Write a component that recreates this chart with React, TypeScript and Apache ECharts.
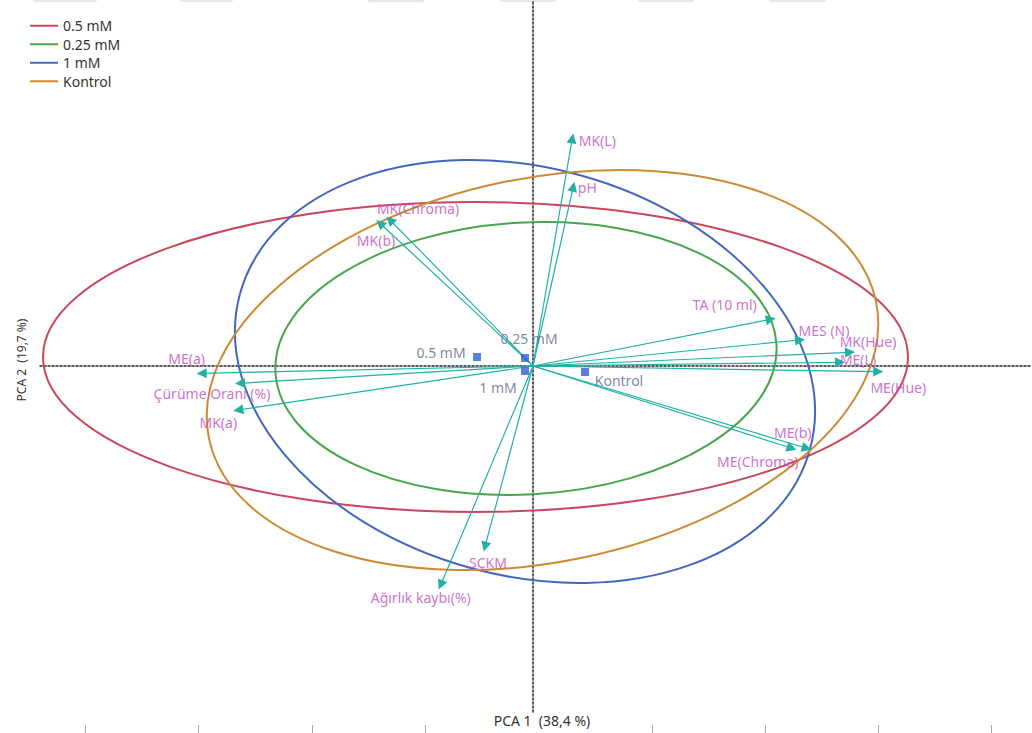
import React, { useEffect, useRef } from "react";
import * as echarts from "echarts";

// Treatment groups
const groupNames = ["0.5 mM", "0.25 mM", "1 mM", "Kontrol"];
const groupColors = ["#c9475b", "#45a74a", "#4466c0", "#cc8a33"];

// Group centroids on the first two components
const groupPca1 = [-0.56, -0.08, -0.08, 0.52];
const groupPca2 = [0.09, 0.08, -0.05, -0.06];

// Confidence ellipses: centre, semi-axes and tilt (degrees)
const ellipseCx = [-0.575, -0.07, -0.08, 0.095];
const ellipseCy = [0.09, 0.075, -0.055, -0.04];
const ellipseA = [4.325, 2.51, 2.954, 3.403];
const ellipseB = [1.55, 1.36, 2.039, 1.918];
const ellipseTilt = [0, 3.2, -15.2, 11.6];

// Variable loadings
const variableNames = [
  "MK(L)",
  "pH",
  "TA (10 ml)",
  "MES (N)",
  "MK(Hue)",
  "ME(L)",
  "ME(Hue)",
  "ME(b)",
  "ME(Chroma)",
  "MK(Chroma)",
  "MK(b)",
  "ME(a)",
  "Çürüme Oranı (%)",
  "MK(a)",
  "SÇKM",
  "Ağırlık kaybı(%)",
];
const loadingPca1 = [0.393, 0.403, 2.377, 2.67, 3.17, 3.07, 3.453, 2.737, 2.587, -1.43, -1.53, -3.313, -2.93, -2.947, -0.48, -0.923];
const loadingPca2 = [2.277, 1.793, 0.467, 0.26, 0.137, 0.037, -0.057, -0.823, -0.823, 1.46, 1.427, -0.073, -0.173, -0.44, -1.807, -2.19];

// Bottom tick positions (tick units)
const bottomTicks = [0, 1, 2, 3, 5, 6, 7, 8];

// Label placement (pixel offsets from the arrow tip / point)
const variableLabelOffsets: [number, number][] = [
  [25, 2], [14, 1], [-46, -15], [24, -10], [18, -11], [18, -3], [20, 16], [-14, -16],
  [-34, 13], [28, -12], [-4, 17], [-15, -15], [-28, 10], [-20, 12], [3, 16], [-20, 12],
];
const groupLabelOffsets: [number, number][] = [[-36, -5], [4, -20], [-27, 16], [34, 8]];

const FONT = "'Noto Sans', sans-serif";
const ARROW = "#1fb1a6";
const VAR_LABEL = "#c04cc4";
const GROUP_LABEL = "#5b6a8f";
const AXIS_DASH = { color: "#222", width: 1.5, type: [2, 2] as number[] };

function buildOption() {
  const ellipseSeries = groupNames.map((name, i) => ({
    type: "custom",
    name,
    coordinateSystem: "cartesian2d",
    xAxisIndex: 0,
    yAxisIndex: 0,
    silent: true,
    z: 2,
    itemStyle: { color: groupColors[i] },
    dimensions: ["x", "y", "a", "b", "tilt"],
    encode: { x: 0, y: 1 },
    data: [[ellipseCx[i], ellipseCy[i], ellipseA[i], ellipseB[i], ellipseTilt[i]]],
    renderItem: (_params: any, api: any) => {
      const c = api.coord([api.value(0), api.value(1)]);
      const s = api.size([api.value(2), api.value(3)]);
      return {
        type: "ellipse",
        x: c[0],
        y: c[1],
        rotation: (api.value(4) * Math.PI) / 180,
        shape: { cx: 0, cy: 0, rx: s[0], ry: s[1] },
        style: { fill: "none", stroke: groupColors[i], lineWidth: 2 },
      };
    },
  }));

  const topShades = [
    [33, 64], [180, 53], [368, 56], [500, 56], [638, 56], [769, 57],
  ].map(([x, w]) => ({
    type: "rect",
    shape: { x, y: -3, width: w, height: 5, r: 2 },
    style: { fill: "#e6e6e6" },
    silent: true,
  }));

  return {
    animation: false,
    backgroundColor: "#fff",
    textStyle: { fontFamily: FONT },
    grid: { left: 40, right: 0, top: 0, bottom: 21, containLabel: false },
    legend: {
      orient: "vertical",
      left: 30,
      top: 16.5,
      padding: 0,
      itemWidth: 28,
      itemHeight: 2,
      itemGap: 0,
      selectedMode: false,
      textStyle: { fontSize: 14, color: "#333", fontFamily: FONT, lineHeight: 18.5 },
      data: groupNames.map((name) => ({ name, icon: "rect" })),
    },
    xAxis: [
      {
        type: "value",
        min: -4.93,
        max: 4.99,
        axisLine: { show: true, onZero: true, lineStyle: AXIS_DASH },
        axisTick: { show: false },
        axisLabel: { show: false },
        splitLine: { show: false },
      },
      {
        type: "value",
        position: "bottom",
        offset: 13,
        min: -0.4,
        max: 8.356,
        axisLine: { show: false, onZero: false },
        axisTick: { show: true, length: 8, lineStyle: { color: "#aaa" }, customValues: bottomTicks },
        axisLabel: { show: false },
        splitLine: { show: false },
      },
    ],
    yAxis: {
      type: "value",
      min: -3.46,
      max: 3.66,
      axisLine: { show: true, onZero: true, onZeroAxisIndex: 0, lineStyle: AXIS_DASH },
      axisTick: { show: false },
      axisLabel: { show: false },
      splitLine: { show: false },
    },
    graphic: [
      ...topShades,
      {
        type: "text",
        x: 542,
        y: 720,
        style: {
          text: "PCA 1  (38,4 %)",
          fill: "#333",
          font: `14px ${FONT}`,
          align: "center",
          verticalAlign: "middle",
        },
        silent: true,
      },
      {
        type: "text",
        x: 21,
        y: 360,
        rotation: Math.PI / 2,
        style: {
          text: "PCA 2  (19,7 %)",
          fill: "#333",
          font: `12px ${FONT}`,
          align: "center",
          verticalAlign: "middle",
        },
        silent: true,
      },
    ],
    series: [
      ...ellipseSeries,
      {
        type: "lines",
        coordinateSystem: "cartesian2d",
        xAxisIndex: 0,
        yAxisIndex: 0,
        silent: true,
        z: 3,
        symbol: ["none", "triangle"],
        symbolSize: 10,
        lineStyle: { color: ARROW, width: 1.2, opacity: 1, curveness: 0 },
        data: variableNames.map((_n, i) => ({
          coords: [
            [0, 0],
            [loadingPca1[i], loadingPca2[i]],
          ],
        })),
      },
      {
        type: "scatter",
        xAxisIndex: 0,
        yAxisIndex: 0,
        silent: true,
        z: 4,
        symbolSize: 0,
        itemStyle: { color: "transparent" },
        label: {
          show: true,
          position: "inside",
          formatter: "{b}",
          color: VAR_LABEL,
          fontSize: 14,
          fontFamily: FONT,
        },
        data: variableNames.map((n, i) => ({
          name: n,
          value: [loadingPca1[i], loadingPca2[i]],
          label: { offset: variableLabelOffsets[i] },
        })),
      },
      {
        type: "scatter",
        xAxisIndex: 0,
        yAxisIndex: 0,
        silent: true,
        z: 5,
        symbol: "rect",
        symbolSize: 8,
        itemStyle: { color: "#2f5ed8" },
        label: {
          show: true,
          position: "inside",
          formatter: "{b}",
          color: GROUP_LABEL,
          fontSize: 14,
          fontFamily: FONT,
        },
        data: groupNames.map((n, i) => ({
          name: n,
          value: [groupPca1[i], groupPca2[i]],
          label: { offset: groupLabelOffsets[i] },
        })),
      },
    ],
  };
}

export default function App() {
  const ref = useRef<HTMLDivElement>(null);
  useEffect(() => {
    if (!ref.current) return;
    const chart = echarts.init(ref.current, null, { renderer: "svg" });
    chart.setOption(buildOption() as any);
    return () => chart.dispose();
  }, []);
  return (
    <div
      ref={ref}
      style={{ position: "fixed", left: 0, top: 0, width: 1032, height: 733, background: "#fff" }}
    />
  );
}
